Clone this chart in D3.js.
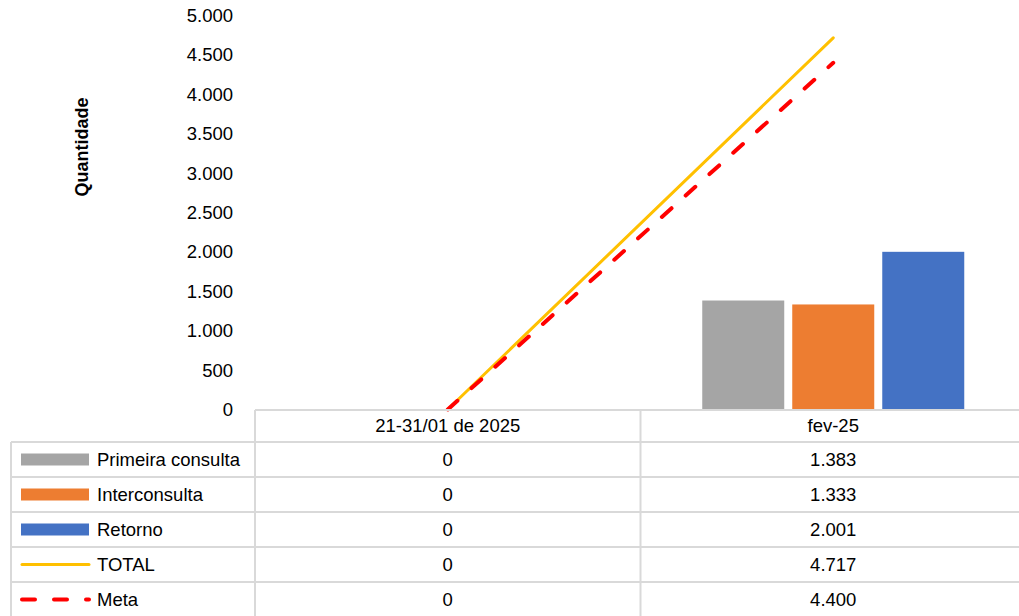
<!DOCTYPE html>
<html><head><meta charset="utf-8">
<script src="https://cdn.jsdelivr.net/npm/d3@7"></script>
<style>
html,body{margin:0;padding:0;background:#fff;}
svg{display:block;font-family:"Liberation Sans",Arial,sans-serif;}
</style></head>
<body>
<svg id="c" width="1019" height="616"></svg>
<script>
const categories = ["21-31/01 de 2025", "fev-25"];
const primeira = [0, 1383];
const interconsulta = [0, 1333];
const retorno = [0, 2001];
const total = [0, 4717];
const meta = [0, 4400];
const yTicks = [0, 500, 1000, 1500, 2000, 2500, 3000, 3500, 4000, 4500, 5000];
const seriesNames = ["Primeira consulta", "Interconsulta", "Retorno", "TOTAL", "Meta"];

const colors = {gray:"#A5A5A5", orange:"#ED7D31", blue:"#4472C4", gold:"#FFC000", red:"#FF0000", grid:"#D9D9D9"};
const loc = d3.formatLocale({decimal:",", thousands:".", grouping:[3], currency:["",""]});
const fmt = loc.format(",d");
const FS = 18.5;

const svg = d3.select("#c");
const plotLeft = 255, plotRight = 1026, y0 = 409.5, yTop = 15.5;

const x = d3.scaleBand().domain(categories).range([plotLeft, plotRight]).padding(0);
const y = d3.scaleLinear().domain([0, 5000]).range([y0, yTop]);

// bars
const barSeries = [
  {name: seriesNames[0], vals: primeira, color: colors.gray},
  {name: seriesNames[1], vals: interconsulta, color: colors.orange},
  {name: seriesNames[2], vals: retorno, color: colors.blue}
];
const inner = d3.scaleBand().domain(barSeries.map(d=>d.name))
  .range([0, x.bandwidth()]).paddingOuter(0.686).paddingInner(0.089);

barSeries.forEach(s => {
  svg.append("g").selectAll("rect").data(categories.map((c,i)=>({c, v:s.vals[i]})))
    .join("rect")
    .attr("x", d => x(d.c) + inner(s.name))
    .attr("width", inner.bandwidth())
    .attr("y", d => y(d.v))
    .attr("height", d => y(0) - y(d.v))
    .attr("fill", s.color);
});

// y axis
const yAxis = d3.axisLeft(y).tickValues(yTicks).tickSize(0).tickPadding(22).tickFormat(d => fmt(d));
const ya = svg.append("g").attr("transform", `translate(${plotLeft},0)`).call(yAxis);
ya.select(".domain").remove();
ya.selectAll("text").attr("font-size", FS).attr("fill", "#000").attr("font-family", "Liberation Sans, Arial, sans-serif");

svg.append("text").attr("transform", "translate(88,147) rotate(-90)")
  .attr("text-anchor", "middle").attr("font-size", 18).attr("font-weight", "bold").text("Quantidade");

// lines
const cx = c => x(c) + x.bandwidth()/2;
const line = d3.line().x((d,i)=>cx(categories[i])).y(d=>y(d));
svg.append("path").datum(total).attr("d", line).attr("fill","none")
  .attr("stroke", colors.gold).attr("stroke-width", 3).attr("stroke-linecap","round");
svg.append("path").datum(meta).attr("d", line).attr("fill","none")
  .attr("stroke", colors.red).attr("stroke-width", 4).attr("stroke-linecap","round")
  .attr("stroke-dasharray","13,19");

// data table
const tableLeft = 11, rowTop = 410, headerH = 32, rowH = 35;
const g = svg.append("g");
function hline(x1, x2, yy){ g.append("line").attr("x1",x1).attr("x2",x2).attr("y1",yy).attr("y2",yy).attr("stroke",colors.grid).attr("stroke-width",2); }
function vline(xx, y1, y2){ g.append("line").attr("x1",xx).attr("x2",xx).attr("y1",y1).attr("y2",y2).attr("stroke",colors.grid).attr("stroke-width",2); }

hline(plotLeft, 1019, rowTop);
const rows = seriesNames.length;
for (let r = 0; r <= rows; r++) {
  const yy = rowTop + headerH + r*rowH;
  hline(tableLeft, 1019, yy);
}
const tableBottom = rowTop + headerH + rows*rowH;
vline(tableLeft, rowTop + headerH, tableBottom);
vline(plotLeft, rowTop, tableBottom);
categories.forEach((c,i) => { if (i>0) vline(x(c), rowTop, tableBottom); });

// header
g.selectAll("text.hdr").data(categories).join("text").attr("class","hdr")
  .attr("x", d => cx(d)).attr("y", rowTop + headerH/2).attr("dy","0.35em")
  .attr("text-anchor","middle").attr("font-size",FS).text(d=>d);

const allSeries = [primeira, interconsulta, retorno, total, meta];
const keyColors = [colors.gray, colors.orange, colors.blue, colors.gold, colors.red];
allSeries.forEach((vals, r) => {
  const cyy = rowTop + headerH + r*rowH + rowH/2;
  if (r < 3) {
    g.append("rect").attr("x", 21).attr("y", cyy - 6).attr("width", 68).attr("height", 12).attr("fill", keyColors[r]);
  } else if (r === 3) {
    g.append("line").attr("x1", 22).attr("x2", 89).attr("y1", cyy).attr("y2", cyy)
      .attr("stroke", keyColors[r]).attr("stroke-width", 3).attr("stroke-linecap","round");
  } else {
    g.append("line").attr("x1", 22).attr("x2", 89).attr("y1", cyy).attr("y2", cyy)
      .attr("stroke", keyColors[r]).attr("stroke-width", 4).attr("stroke-linecap","round")
      .attr("stroke-dasharray","13,19");
  }
  g.append("text").attr("x", 97).attr("y", cyy).attr("dy","0.35em").attr("font-size",FS).text(seriesNames[r]);
  categories.forEach((c,i) => {
    g.append("text").attr("x", cx(c)).attr("y", cyy).attr("dy","0.35em")
      .attr("text-anchor","middle").attr("font-size",FS).text(fmt(vals[i]));
  });
});
</script>
</body></html>
